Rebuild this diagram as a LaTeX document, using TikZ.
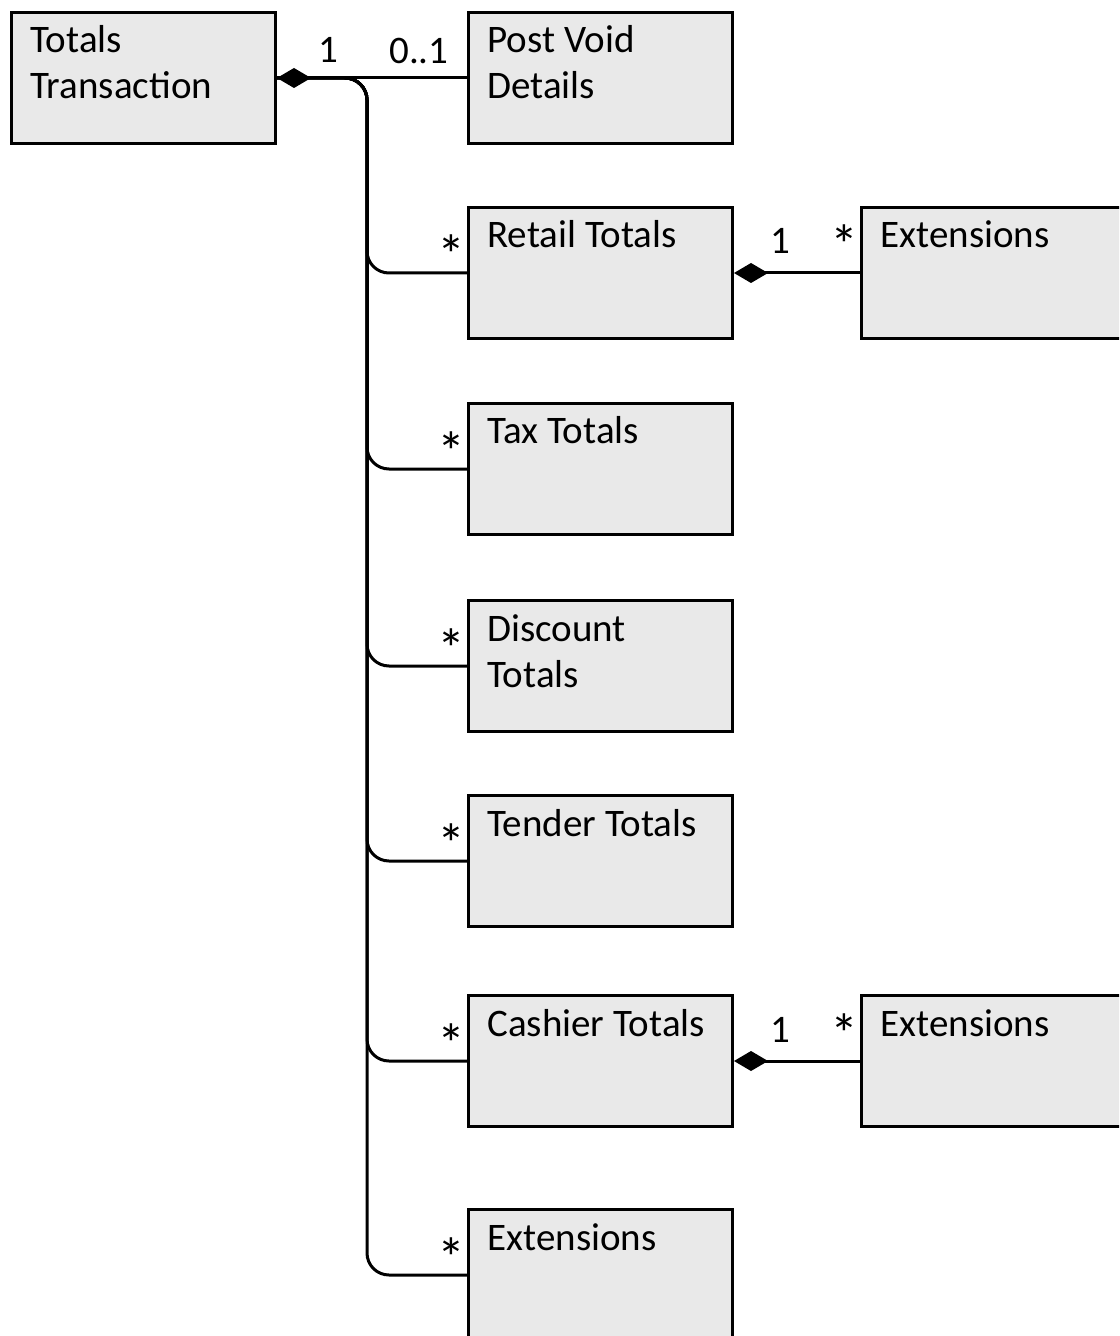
\documentclass[tikz,border=0pt]{standalone}
\usepackage{fontspec}
\setmainfont{Carlito}
\usetikzlibrary{arrows.meta, positioning}
\definecolor{boxgray}{RGB}{233,233,233}
\newcommand{\twoline}[2]{\vtop{\hbox{#1}\hbox{#2}}}

\begin{document}
\begin{tikzpicture}[
        x=0.5pt, y=-0.5pt,
        cls/.style={draw, fill=boxgray, line width=1.5pt, minimum width=132pt, minimum height=65.5pt, anchor=north west, inner sep=0pt},
        clstext/.style={anchor=base west, inner sep=0pt, xshift=10pt, yshift=-21pt, font=\fontsize{19.5}{23}\selectfont},
        mult/.style={inner sep=0pt, font=\fontsize{19.5}{23}\selectfont},
        many/.style={inner sep=0pt, font=\fontsize{28}{30}\selectfont},
        assoc/.style={line width=1.5pt, rounded corners=11pt},
        comp/.style={{Diamond[length=17pt, width=10pt]}-, line width=1.5pt}
    ]
        \clip (0,0) rectangle (1119,1336);
        % Root class
        \node[cls, label={[clstext]north west:{\twoline{Totals}{Transaction}}}] (total) at (10,11) {};

        % Column of parts
        \node[cls, label={[clstext]north west:{\twoline{Post Void}{Details}}}] (postvoid) at (467,11) {};
        \node[cls, label={[clstext]north west:Retail Totals}] (retail) at (467,206) {};
        \node[cls, label={[clstext]north west:Tax Totals}] (tax) at (467,402) {};
        \node[cls, label={[clstext]north west:{\twoline{Discount}{Totals}}}] (discount) at (467,599) {};
        \node[cls, label={[clstext]north west:Tender Totals}] (tender) at (467,794) {};
        \node[cls, label={[clstext]north west:Cashier Totals}] (cashier) at (467,994) {};
        \node[cls, label={[clstext]north west:Extensions}] (extb) at (467,1208) {};

        % Extensions on the right
        \node[cls, label={[clstext]north west:Extensions}] (extr) at (860,206) {};
        \node[cls, label={[clstext]north west:Extensions}] (extc) at (860,994) {};

        % Trunk and branches
        \coordinate (trunk) at (367,0);
        \foreach \b in {retail,tax,discount,tender,cashier,extb} {
            \draw[assoc] (total.east) -- (total.east -| trunk) |- (\b.west);
            \node[many, anchor=base east] (m\b) at ([xshift=-0.5pt, yshift=-1pt]\b.west) {*};
        }

        % Composition to Post Void
        \draw[comp] (total.east) -- (postvoid.west);
        \node[mult, anchor=base west] (mone) at ([xshift=20.5pt, yshift=7.5pt]total.east) {1};
        \node[mult, anchor=base east] (mopt) at ([xshift=-9pt, yshift=7pt]postvoid.west) {0..1};

        % Extensions compositions
        \foreach \p/\e in {retail/extr,cashier/extc} {
            \draw[comp] (\p.east) -- (\e.west);
            \node[mult, anchor=base west] (o\p) at ([xshift=18pt, yshift=9.5pt]\p.east) {1};
            \node[many, anchor=base east] (s\p) at ([xshift=-0.5pt, yshift=4pt]\e.west) {*};
        }
    \end{tikzpicture}
\end{document}
